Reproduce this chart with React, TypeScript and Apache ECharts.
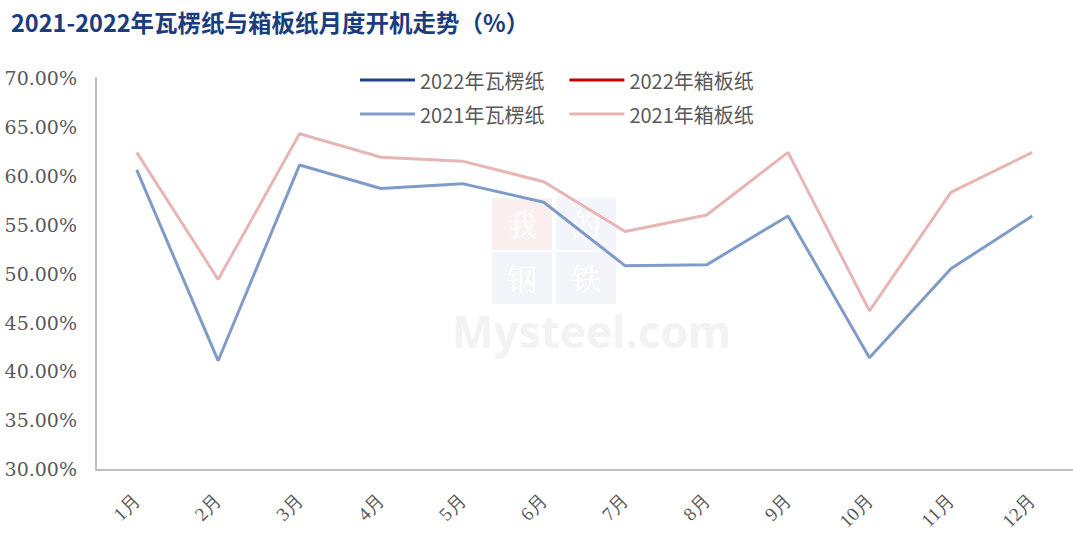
import React, { useEffect, useRef } from "react";
import * as echarts from "echarts";

const months = ["1月", "2月", "3月", "4月", "5月", "6月", "7月", "8月", "9月", "10月", "11月", "12月"];
const corrugated2022: number[] = [];
const boxboard2022: number[] = [];
const corrugated2021 = [60.6, 41.1, 61.1, 58.7, 59.2, 57.3, 50.8, 50.9, 55.9, 41.4, 50.5, 55.9];
const boxboard2021 = [62.4, 49.4, 64.3, 61.9, 61.5, 59.4, 54.3, 56.0, 62.4, 46.2, 58.3, 62.4];
const seriesNames = ["2022年瓦楞纸", "2022年箱板纸", "2021年瓦楞纸", "2021年箱板纸"];
const titleText = "2021-2022年瓦楞纸与箱板纸月度开机走势（%）";

export default function App() {
  const ref = useRef<HTMLDivElement>(null);
  useEffect(() => {
    if (!ref.current) return;
    const chart = echarts.init(ref.current, undefined, { renderer: "svg" });
    const legendText = { color: "#595959", fontSize: 20, fontFamily: "Noto Sans CJK SC" };
    const wmCell = (x: number, y: number, fill: string, ch: string) => ({
      type: "group",
      z: 0,
      children: [
        { type: "rect", shape: { x, y, width: 60, height: 52 }, style: { fill } },
        {
          type: "text",
          x: x + 30,
          y: y + 25,
          style: {
            text: ch,
            fill: "#ffffff",
            fontSize: 30,
            lineHeight: 30,
            fontFamily: "Noto Serif CJK SC, Noto Sans CJK SC",
            align: "center",
            verticalAlign: "middle",
          },
        },
      ],
    });
    chart.setOption({
      animation: false,
      backgroundColor: "#ffffff",
      title: {
        text: titleText,
        left: 6,
        top: 5,
        textStyle: { color: "#1b3c7e", fontSize: 23.5, fontWeight: "bold", fontFamily: "Noto Sans CJK SC" },
      },
      legend: [
        {
          data: [seriesNames[0], seriesNames[1]],
          left: 355,
          top: 65,
          itemWidth: 55,
          itemHeight: 3,
          itemGap: 25,
          icon: "rect",
          textStyle: legendText,
        },
        {
          data: [seriesNames[2], seriesNames[3]],
          left: 355,
          top: 99,
          itemWidth: 55,
          itemHeight: 3,
          itemGap: 25,
          icon: "rect",
          textStyle: legendText,
        },
      ],
      graphic: [
        wmCell(492, 198, "#fcefef", "我"),
        wmCell(556, 198, "#f3f5fa", "的"),
        wmCell(492, 252, "#f3f5fa", "钢"),
        wmCell(556, 252, "#f3f5fa", "铁"),
        {
          type: "text",
          left: 452,
          top: 309,
          z: 0,
          style: { text: "Mysteel.com", fill: "#f3f3f3", fontSize: 44, lineHeight: 44, fontWeight: "bold", fontFamily: "Noto Sans" },
        },
      ],
      grid: { left: 96, top: 78, width: 980, height: 395 },
      xAxis: {
        type: "category",
        data: months,
        boundaryGap: true,
        axisLine: { lineStyle: { color: "#bfbfbf", width: 2 } },
        axisTick: { show: false },
        axisLabel: {
          rotate: 45,
          margin: 28,
          color: "#595959",
          fontSize: 19,
          fontFamily: "Liberation Serif",
        },
      },
      yAxis: {
        type: "value",
        min: 30,
        max: 70,
        interval: 5,
        axisLine: { show: true, lineStyle: { color: "#bfbfbf", width: 2 } },
        axisTick: { show: false },
        splitLine: { show: false },
        axisLabel: {
          margin: 19,
          color: "#595959",
          fontSize: 19,
          fontFamily: "DejaVu Serif",
          formatter: (v: number) => v.toFixed(2) + "%",
        },
      },
      series: [
        { name: seriesNames[0], type: "line", data: corrugated2022, color: "#1f3f8c", symbol: "none", lineStyle: { width: 3 } },
        { name: seriesNames[1], type: "line", data: boxboard2022, color: "#c00000", symbol: "none", lineStyle: { width: 3 } },
        { name: seriesNames[2], type: "line", data: corrugated2021, color: "#7f9cc8", symbol: "none", lineStyle: { width: 3 } },
        { name: seriesNames[3], type: "line", data: boxboard2021, color: "#e8b5b5", symbol: "none", lineStyle: { width: 3 } },
      ],
    });
    return () => chart.dispose();
  }, []);
  return <div ref={ref} style={{ position: "fixed", left: 0, top: 0, width: 1073, height: 533 }} />;
}
